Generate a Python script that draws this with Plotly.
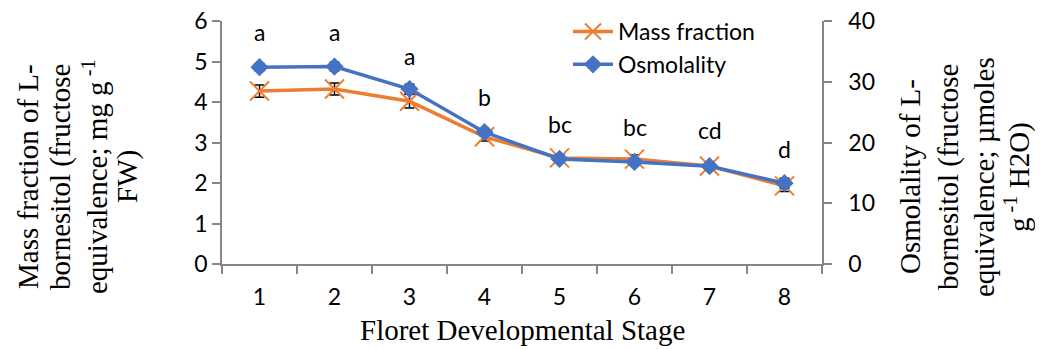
import plotly.graph_objects as go

stages = [1, 2, 3, 4, 5, 6, 7, 8]
stage_labels = ["1", "2", "3", "4", "5", "6", "7", "8"]
mass_fraction = [4.27, 4.32, 4.02, 3.14, 2.62, 2.59, 2.42, 1.93]
mass_err = [0.15, 0.15, 0.17, 0.10, 0.08, 0.10, 0.07, 0.14]
osmolality = [32.4, 32.5, 28.8, 21.7, 17.3, 16.8, 16.1, 13.3]
osmo_err = [0.6, 0.7, 0.8, 0.6, 0.4, 0.5, 0.4, 0.8]
letters = ["a", "a", "a", "b", "bc", "bc", "cd", "d"]
letter_y = [5.72, 5.72, 5.13, 4.12, 3.45, 3.38, 3.30, 2.85]

ORANGE = "#ED7D31"
BLUE = "#4472C4"
AXIS = "#868686"
tick_font = dict(family="Lato, Open Sans, sans-serif", size=23, color="black")
title_font = dict(family="Liberation Serif, Times New Roman, serif", size=29, color="black")

OFF = 8  # default page body margin
W, H = 1043, 349
# target plot area in page pixels
PL, PR, PT, PB = 222, 822, 21, 264
L = PL - OFF
T = PT - OFF
R = W - (PR - OFF)
B = H - (PB - OFF)
pw, ph = PR - PL, PB - PT


def px_x(p):
    return (p - PL) / pw


def px_y(p):
    return (PB - p) / ph


fig = go.Figure()
fig.add_trace(go.Scatter(
    x=stages, y=mass_fraction, name="Mass fraction", mode="lines+markers",
    line=dict(color=ORANGE, width=3.5),
    marker=dict(symbol="x-thin-open", size=19, line=dict(color=ORANGE, width=2)),
    error_y=dict(type="data", array=mass_err, color="black", thickness=1.5, width=5),
    yaxis="y"))
fig.add_trace(go.Scatter(
    x=stages, y=osmolality, name="Osmolality", mode="lines+markers",
    line=dict(color=BLUE, width=3.5),
    marker=dict(symbol="diamond", size=14, color=BLUE),
    error_y=dict(type="data", array=osmo_err, color="black", thickness=1.5, width=5),
    yaxis="y2"))

for s, t, yv in zip(stages, letters, letter_y):
    fig.add_annotation(x=s, y=yv, xref="x", yref="y", text=t, showarrow=False,
                       xanchor="center", yanchor="middle", font=tick_font)

left_title = ["Mass fraction of L-", "bornesitol (fructose",
              "equivalence; mg g<sup> -1</sup>", "FW)"]
left_x = [28, 60, 95, 127]
for t, xp in zip(left_title, left_x):
    fig.add_annotation(x=px_x(xp), y=px_y(177), xref="paper", yref="paper", text=t,
                       showarrow=False, textangle=-90, xanchor="center",
                       yanchor="middle", font=title_font)

right_title = ["Osmolality of L-", "bornesitol (fructose",
               "equivalence; µmoles", "g<sup> -1</sup> H2O)"]
right_x = [910, 948, 984, 1017]
for t, xp in zip(right_title, right_x):
    fig.add_annotation(x=px_x(xp), y=px_y(177), xref="paper", yref="paper", text=t,
                       showarrow=False, textangle=-90, xanchor="center",
                       yanchor="middle", font=title_font)

fig.add_annotation(x=0.5, y=px_y(330), xref="paper", yref="paper",
                   text="Floret Developmental Stage", showarrow=False,
                   xanchor="center", yanchor="middle", font=title_font)

fig.update_layout(
    width=W, height=H,
    margin=dict(l=L, r=R, t=T, b=B, autoexpand=False),
    paper_bgcolor="white", plot_bgcolor="white",
    showlegend=True,
    legend=dict(x=px_x(568), y=px_y(10), xanchor="left", yanchor="top",
                font=tick_font, bgcolor="rgba(0,0,0,0)", tracegroupgap=0,
                itemwidth=40),
    xaxis=dict(range=[0.5, 8.5], tickvals=stages, ticktext=stage_labels,
               ticks="", showline=True, linecolor=AXIS, linewidth=1.5,
               showgrid=False, zeroline=False, tickfont=tick_font,
               ticklabelstandoff=12,
               minor=dict(tickvals=[0.5 + i for i in range(9)], ticks="outside",
                          ticklen=8, tickcolor=AXIS, tickwidth=1.5)),
    yaxis=dict(range=[0, 6], dtick=1, ticks="outside", ticklen=8, tickcolor=AXIS,
               tickwidth=1.5, showline=True, linecolor=AXIS, linewidth=1.5,
               showgrid=False, zeroline=False, tickfont=tick_font,
               ticklabeloverflow="allow"),
    yaxis2=dict(range=[0, 40], dtick=10, overlaying="y", side="right",
                ticks="outside", ticklen=8, tickcolor=AXIS, tickwidth=1.5,
                showline=True, linecolor=AXIS, linewidth=1.5,
                showgrid=False, zeroline=False, tickfont=tick_font,
                ticklabeloverflow="allow", ticklabelstandoff=12),
)

fig.write_html("out.html")
